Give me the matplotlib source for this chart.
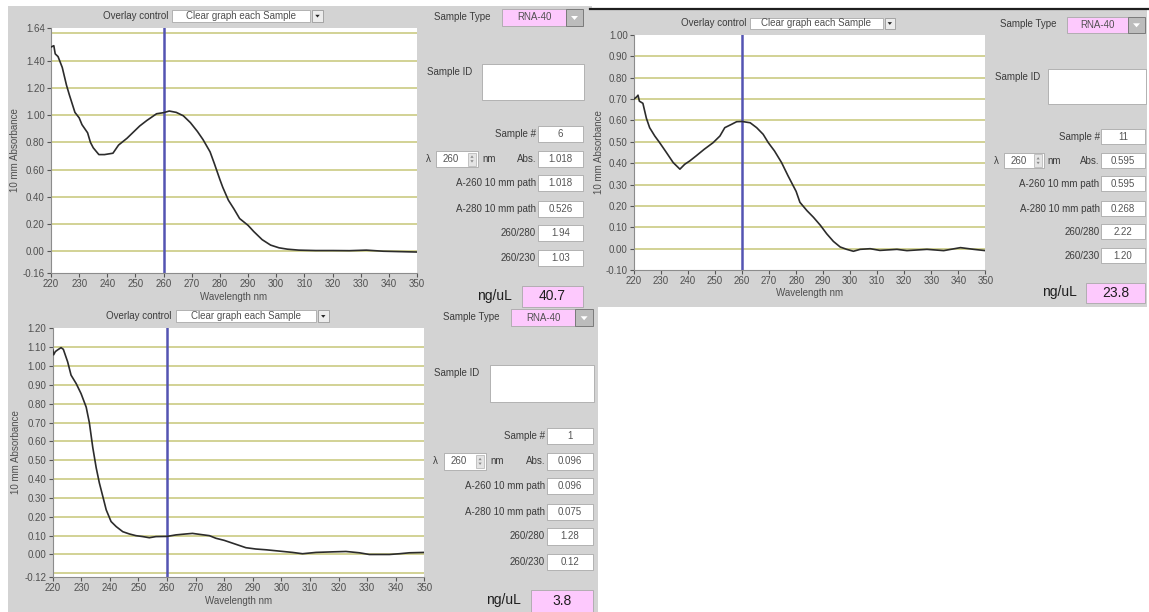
import matplotlib
matplotlib.use("Agg")
import matplotlib.pyplot as plt
from matplotlib.patches import Rectangle, Polygon

plt.rcParams['font.family'] = ['Liberation Sans', 'DejaVu Sans']

W, H = 1149, 612

# spectra: wavelength (nm) and 10 mm absorbance, one per sample
wl_a = [220, 221, 221.5, 222.5, 224, 225.5, 226.5, 228.5, 230, 231,
        233, 234, 235, 237, 239, 242, 244, 247, 249, 251.5,
        254, 257.5, 260, 262, 264.5, 267, 269.5, 272, 274, 276.5,
        278, 280, 281, 283, 285, 287, 290, 292, 295, 298,
        301, 304, 308, 314, 320, 326, 332, 338, 344, 350]
abs_a = [1.50, 1.51, 1.45, 1.43, 1.35, 1.22, 1.15, 1.02, 0.98, 0.93,
         0.87, 0.80, 0.76, 0.71, 0.71, 0.72, 0.78, 0.83, 0.87, 0.92,
         0.96, 1.01, 1.018, 1.03, 1.02, 0.995, 0.945, 0.88, 0.82, 0.73,
         0.645, 0.526, 0.47, 0.375, 0.31, 0.24, 0.19, 0.145, 0.085, 0.045,
         0.025, 0.015, 0.008, 0.005, 0.005, 0.004, 0.008, 0.0, -0.003, -0.006]

wl_b = [220, 221, 221.5, 222, 223.3, 224.6, 225.8, 227.7, 229.5, 232,
        234.5, 237, 238.8, 240.6, 243, 246, 249.3, 251.8, 253.6, 256,
        258, 260, 263, 265.4, 267.8, 269.7, 272, 274.6, 277, 280,
        281.4, 284, 286.4, 289, 291.3, 293.8, 296.3, 298.7, 301.2, 303.7,
        307.4, 311, 317.3, 321, 328.4, 334.6, 340.8, 345.7, 350]
abs_b = [0.70, 0.71, 0.718, 0.69, 0.68, 0.61, 0.566, 0.527, 0.496, 0.45,
         0.403, 0.372, 0.395, 0.41, 0.434, 0.465, 0.496, 0.527, 0.566, 0.581,
         0.594, 0.595, 0.589, 0.566, 0.535, 0.496, 0.457, 0.403, 0.341, 0.268,
         0.217, 0.178, 0.147, 0.109, 0.07, 0.034, 0.008, -0.003, -0.012, -0.003,
         0.0, -0.008, -0.003, -0.009, -0.003, -0.009, 0.005, -0.003, -0.009]

wl_c = [220, 220.3, 220.9, 221.7, 222.9, 223.7, 225.2, 226.4, 228.2, 229.9,
        231.7, 232.8, 234, 235.2, 236.3, 237.5, 238.7, 240.4, 242.2, 244.5,
        246.8, 249.1, 251.5, 253.8, 256.1, 260, 263.1, 266.6, 268.9, 271.3,
        274.8, 277.1, 280, 284.1, 287.6, 291.1, 294.6, 299.3, 303.9, 307.4,
        312.1, 317.9, 322.6, 327.3, 330.8, 337.8, 341.3, 344.8, 350]
abs_c = [1.086, 1.06, 1.077, 1.086, 1.098, 1.089, 1.023, 0.952, 0.907, 0.854,
         0.782, 0.70, 0.568, 0.46, 0.38, 0.309, 0.237, 0.175, 0.148, 0.121,
         0.109, 0.10, 0.095, 0.089, 0.095, 0.096, 0.104, 0.109, 0.112, 0.107,
         0.10, 0.086, 0.075, 0.054, 0.036, 0.029, 0.025, 0.018, 0.011, 0.004,
         0.011, 0.014, 0.016, 0.009, 0.0, 0.0, 0.004, 0.009, 0.011]

spectra = [(wl_a, abs_a), (wl_b, abs_b), (wl_c, abs_c)]

# readouts
sample_type = "RNA-40"
cursor_nm = 260
sample_no = [6, 11, 1]
abs_260 = [1.018, 0.595, 0.096]
a260_path = [1.018, 0.595, 0.096]
a280_path = [0.526, 0.268, 0.075]
ratio_260_280 = [1.94, 2.22, 1.28]
ratio_260_230 = [1.03, 1.20, 0.12]
conc_ng_ul = [40.7, 23.8, 3.8]

# axis ranges, labelled ticks and grid lines
ylims = [(-0.16, 1.64), (-0.10, 1.00), (-0.12, 1.20)]
yticks = [[-0.16, 0.0, 0.2, 0.4, 0.6, 0.8, 1.0, 1.2, 1.4, 1.64],
          [-0.1, 0.0, 0.1, 0.2, 0.3, 0.4, 0.5, 0.6, 0.7, 0.8, 0.9, 1.0],
          [-0.12, 0.0, 0.1, 0.2, 0.3, 0.4, 0.5, 0.6, 0.7, 0.8, 0.9, 1.0, 1.1, 1.2]]
gridlines = [[0.0, 0.2, 0.4, 0.6, 0.8, 1.0, 1.2, 1.4, 1.6],
             [0.0, 0.1, 0.2, 0.3, 0.4, 0.5, 0.6, 0.7, 0.8, 0.9],
             [-0.1, 0.0, 0.1, 0.2, 0.3, 0.4, 0.5, 0.6, 0.7, 0.8, 0.9, 1.0, 1.1]]

# window placement in pixels: x offset, y offset, scale
windows = [(0, 0, 1.0), (585, 8, 0.96), (1, 300, 1.015)]

GRAY = '#d3d3d3'
PINK = '#fdc9fd'
TXT = '#3c3c3c'

fig = plt.figure(figsize=(W / 100, H / 100), dpi=100)
fig.patch.set_facecolor('white')
bg = fig.add_axes([0, 0, 1, 1])
bg.set_xlim(0, W)
bg.set_ylim(H, 0)
bg.axis('off')

# window backgrounds
bg.add_patch(Rectangle((8, 6), 584, 299, facecolor=GRAY, edgecolor='none'))
bg.add_patch(Rectangle((590, 10), 557, 297, facecolor=GRAY, edgecolor='none'))
bg.add_patch(Rectangle((8, 303), 590, 309, facecolor=GRAY, edgecolor='none'))
bg.plot([590, W], [8.5, 8.5], color='#1e1e1e', lw=1.6)


def field(x0, y0, x1, y1, fc='white'):
    bg.add_patch(Rectangle((x0, y0), x1 - x0, y1 - y0, facecolor=fc,
                           edgecolor='#a9a9a9', lw=0.6, zorder=2))


def label(x, y, s, ha='left', size=7, color=TXT, weight='normal'):
    bg.text(x, y, s, ha=ha, va='center', fontsize=size, color=color,
            weight=weight, zorder=3)


for i, (ox, oy, s) in enumerate(windows):
    def P(x, y):
        return ox + s * x, oy + s * y

    def R(x0, y0, x1, y1):
        return ox + s * x0, oy + s * y0, ox + s * x1, oy + s * y1

    # overlay control
    x, y = P(168, 16)
    label(x, y, "Overlay control", ha='right')
    x0, y0, x1, y1 = R(172, 10, 310, 22)
    field(x0, y0, x1, y1)
    label((x0 + x1) / 2, (y0 + y1) / 2, "Clear graph each Sample", ha='center', color='#505050')
    x0, y0, x1, y1 = R(312, 10, 323, 22)
    bg.add_patch(Rectangle((x0, y0), x1 - x0, y1 - y0, facecolor='#ececec',
                           edgecolor='#9a9a9a', lw=0.6, zorder=2))
    cx, cy = (x0 + x1) / 2, (y0 + y1) / 2
    bg.add_patch(Polygon([(cx - 2.2, cy - 1.2), (cx + 2.2, cy - 1.2), (cx, cy + 1.5)],
                         closed=True, facecolor='#222222', edgecolor='none', zorder=3))

    # spectrum plot
    x0, y0, x1, y1 = R(51, 28, 417, 273)
    ax = fig.add_axes([x0 / W, 1 - y1 / H, (x1 - x0) / W, (y1 - y0) / H])
    ax.set_facecolor('white')
    wl, ab = spectra[i]
    for g in gridlines[i]:
        ax.axhline(g, color='#cfcf8c', lw=1.3, zorder=1)
    ax.axvline(cursor_nm, color='#5454b2', lw=1.8, zorder=2)
    ax.plot(wl, ab, color='#2c2c2c', lw=1.2, zorder=3)
    ax.set_xlim(220, 350)
    ax.set_ylim(*ylims[i])
    ax.set_xticks(range(220, 351, 10))
    ax.set_yticks(yticks[i])
    ax.set_yticklabels([f"{v:.2f}" for v in yticks[i]])
    ax.tick_params(direction='out', length=3, width=0.8, labelsize=7,
                   color='#555555', labelcolor='#505050', pad=1.5)
    for side in ['top', 'right']:
        ax.spines[side].set_visible(False)
    for side in ['left', 'bottom']:
        ax.spines[side].set_color('#8c8c8c')
        ax.spines[side].set_linewidth(0.8)

    x, y = P(15, 150)
    bg.text(x, y, "10 mm Absorbance", rotation=90, ha='center', va='center',
            fontsize=7, color='#505050')
    x, y = P(234, 297)
    label(x, y, "Wavelength nm", ha='center', color='#505050')

    # sample type
    x, y = P(491, 17)
    label(x, y, "Sample Type", ha='right')
    x0, y0, x1, y1 = R(502, 9, 566, 26)
    field(x0, y0, x1, y1, PINK)
    label((x0 + x1) / 2, (y0 + y1) / 2, sample_type, ha='center', color='#505050')
    x0, y0, x1, y1 = R(566, 9, 583, 26)
    bg.add_patch(Rectangle((x0, y0), x1 - x0, y1 - y0, facecolor='#bcbcbc',
                           edgecolor='#7a7a7a', lw=0.7, zorder=2))
    cx, cy = (x0 + x1) / 2, (y0 + y1) / 2
    bg.add_patch(Polygon([(cx - 3.5, cy - 1.5), (cx + 3.5, cy - 1.5), (cx, cy + 2.5)],
                         closed=True, facecolor='white', edgecolor='none', zorder=3))

    # sample id
    x, y = P(427, 72)
    label(x, y, "Sample ID")
    field(*R(482, 64, 584, 100))

    # readout rows
    rows = [(134, "Sample #", f"{sample_no[i]}"),
            (159, "Abs.", f"{abs_260[i]:.3f}"),
            (183, "A-260 10 mm path", f"{a260_path[i]:.3f}"),
            (209, "A-280 10 mm path", f"{a280_path[i]:.3f}"),
            (233, "260/280", f"{ratio_260_280[i]:.2f}"),
            (258, "260/230", f"{ratio_260_230[i]:.2f}")]
    for ry, name, val in rows:
        x, y = P(536, ry)
        label(x, y, name, ha='right')
        x0, y0, x1, y1 = R(538, ry - 8, 583, ry + 8)
        field(x0, y0, x1, y1)
        label((x0 + x1) / 2, (y0 + y1) / 2, val, ha='center', color='#555555')

    # wavelength selector
    x, y = P(426, 159)
    label(x, y, "\u03bb")
    x0, y0, x1, y1 = R(436, 151, 478, 167)
    field(x0, y0, x1, y1)
    label(x0 + 7 * s, (y0 + y1) / 2, f"{cursor_nm}", color='#555555')
    sx0, sy0, sx1, sy1 = R(468, 152.5, 476, 165.5)
    bg.add_patch(Rectangle((sx0, sy0), sx1 - sx0, sy1 - sy0, facecolor='#e4e4e4',
                           edgecolor='#b0b0b0', lw=0.5, zorder=3))
    cx, cy = (sx0 + sx1) / 2, (sy0 + sy1) / 2
    bg.add_patch(Polygon([(cx - 1.6, cy - 1.2), (cx + 1.6, cy - 1.2), (cx, cy - 3.6)],
                         closed=True, facecolor='#8a8a8a', edgecolor='none', zorder=4))
    bg.add_patch(Polygon([(cx - 1.6, cy + 1.2), (cx + 1.6, cy + 1.2), (cx, cy + 3.6)],
                         closed=True, facecolor='#8a8a8a', edgecolor='none', zorder=4))
    x, y = P(482, 159)
    label(x, y, "nm")

    # concentration
    x, y = P(512, 296)
    label(x, y, "ng/uL", ha='right', size=10, color='#1e1e1e')
    x0, y0, x1, y1 = R(522, 286, 583, 307)
    field(x0, y0, x1, y1, PINK)
    label((x0 + x1) / 2, (y0 + y1) / 2, f"{conc_ng_ul[i]:.1f}", ha='center',
          size=10, color='#1e1e1e')

fig.savefig("out.png", dpi=100)
